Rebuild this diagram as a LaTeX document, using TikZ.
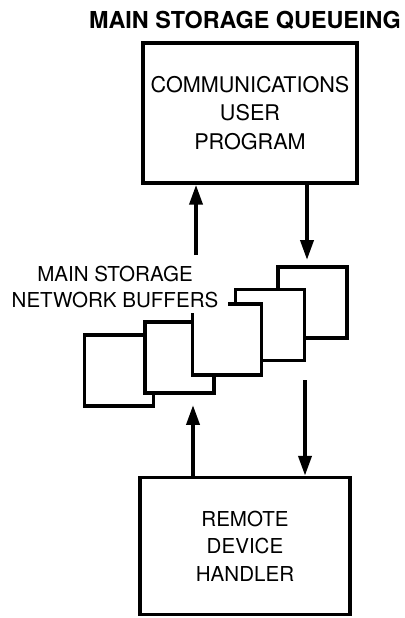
\documentclass[tikz,border=0pt]{standalone}
\usepackage{fontspec}
\setmainfont{TeX Gyre Heros}
\usetikzlibrary{arrows.meta}

\begin{document}
\begin{tikzpicture}[x=0.02cm, y=-0.02cm, line width=2pt,
  box/.style={draw, fill=white, align=center},
  buffer/.style={draw, fill=white, minimum width=1.38cm, minimum height=1.42cm},
  flow/.style={-{Triangle[length=0.4cm, width=0.26cm]}, line width=2.2pt}]
  \useasboundingbox (0,0) rectangle (405,618);
  \node[font=\bfseries\fontsize{13.3}{15}\selectfont] (title) at (245,20) {MAIN STORAGE QUEUEING};
  \node[box, font=\fontsize{12.3}{16.4}\selectfont, minimum width=4.28cm, minimum height=2.8cm] (cup) at (250,113) {COMMUNICATIONS\\USER\\PROGRAM};
  \node[box, font=\fontsize{11.7}{15.6}\selectfont, minimum width=4.2cm, minimum height=2.74cm] (rdh) at (245,546) {REMOTE\\DEVICE\\HANDLER};
  % buffers, back to front
  \node[buffer] (buf1) at (119,370.5) {};
  \node[buffer] (buf2) at (179.5,357.5) {};
  \node[buffer] (buf5) at (312.5,302.5) {};
  \node[buffer] (buf4) at (270,325) {};
  \node[buffer] (buf3) at (227,339.5) {};
  \node[fill=white, align=center, inner xsep=0.2cm, inner ysep=0.1cm, font=\fontsize{11.7}{14.8}\selectfont] (label) at (115,287.5) {MAIN STORAGE\\NETWORK BUFFERS};
  % flows
  \coordinate (up-a) at (196,255);
  \coordinate (down-a) at (307,260);
  \coordinate (up-b) at (193,405);
  \coordinate (down-b) at (305,380);
  \draw[flow] (up-a) -- (up-a |- cup.south);
  \draw[flow] (cup.south -| down-a) -- (down-a);
  \draw[flow] (rdh.north -| up-b) -- (up-b);
  \draw[flow] (down-b) -- (rdh.north -| down-b);
\end{tikzpicture}
\end{document}
